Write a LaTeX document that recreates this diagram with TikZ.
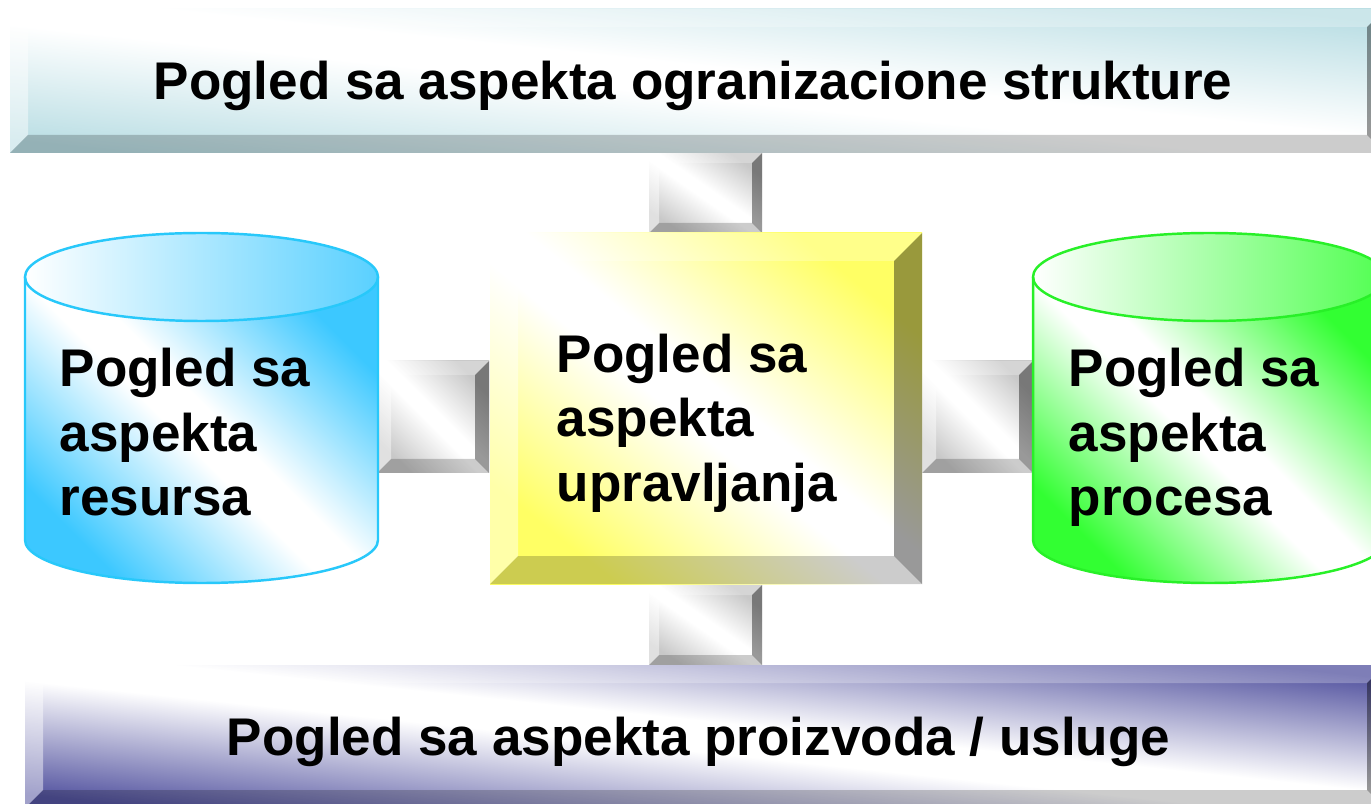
\documentclass[tikz,border=0pt]{standalone}
\usepackage{fontspec}
\setmainfont{Liberation Sans}
\usetikzlibrary{calc}
\definecolor{tealc}{RGB}{186,222,228}
\definecolor{navyc}{RGB}{84,84,160}
\definecolor{yelc}{RGB}{255,255,100}
\definecolor{grayc}{RGB}{200,200,200}
\definecolor{cyanc}{RGB}{60,200,255}
\definecolor{greenc}{RGB}{50,255,50}
\definecolor{cyanline}{RGB}{40,200,250}
\definecolor{greenline}{RGB}{40,240,40}
\newcommand\mkshade[2]{\pgfdeclareverticalshading{#1}{100bp}{color(0bp)=(#2); color(25bp)=(#2); color(47bp)=(white); color(53bp)=(white); color(75bp)=(#2); color(100bp)=(#2)}}
\mkshade{shteal}{tealc}
\mkshade{shnavy}{navyc}
\mkshade{shyel}{yelc}
\mkshade{shgray}{grayc}
\mkshade{shcyan}{cyanc}
\mkshade{shgreen}{greenc}
% x1 y1 x2 y2 depth shading angle
\newcommand\bevbox[7]{%
  \shade[shading=#6, shading angle=#7] (#1,#2) rectangle (#3,#4);
  \fill[white, fill opacity=0.25] (#1,#2) -- (#3,#2) -- ({#3-#5},{#2+#5}) -- ({#1+#5},{#2+#5}) -- cycle;
  \fill[white, fill opacity=0.45] (#1,#2) -- ({#1+#5},{#2+#5}) -- ({#1+#5},{#4-#5}) -- (#1,#4) -- cycle;
  \fill[black, fill opacity=0.2] (#1,#4) -- ({#1+#5},{#4-#5}) -- ({#3-#5},{#4-#5}) -- (#3,#4) -- cycle;
  \fill[black, fill opacity=0.4] (#3,#2) -- (#3,#4) -- ({#3-#5},{#4-#5}) -- ({#3-#5},{#2+#5}) -- cycle;
}
% x1 x2 shading colour linecolour
\newcommand\cylshape[5]{%
  \shade[shading=#3, shading angle=-45]
    (#1,277) -- (#1,540) arc[start angle=180, end angle=0, x radius={(#2-#1)/2}, y radius=43] -- (#2,277) -- cycle;
  \shade[left color=white, right color=#4!85!white] ({(#1+#2)/2},277) ellipse [x radius={(#2-#1)/2}, y radius=44];
  \draw[#5, line width=0.7pt] (#1,277) -- (#1,540) arc[start angle=180, end angle=0, x radius={(#2-#1)/2}, y radius=43] -- (#2,277);
  \draw[#5, line width=0.7pt] ({(#1+#2)/2},277) ellipse [x radius={(#2-#1)/2}, y radius=44];
}
\newcommand\tri[3]{\vtop{\hbox{#1}\hbox{#2}\hbox{#3}}}
\tikzset{lbl/.style={inner sep=0pt, text=black, font=\fontsize{15.08}{18.2}\selectfont\bfseries}}
\begin{document}
\begin{tikzpicture}[x=0.01cm, y=-0.01cm]
\useasboundingbox (0,0) rectangle (1371,804);
\clip (0,0) rectangle (1371,804);
\fill[white] (0,0) rectangle (1371,804);
% connectors
\bevbox{649}{153}{762}{233}{10}{shgray}{-35}
\bevbox{649}{585}{762}{665}{10}{shgray}{-35}
\bevbox{377}{361}{489}{473}{14}{shgray}{-45}
\bevbox{922}{361}{1033}{473}{14}{shgray}{-45}
% bars
\bevbox{10}{9}{1385}{153}{18}{shteal}{-6}
\bevbox{25}{665}{1385}{808}{18}{shnavy}{-6}
% centre box
\bevbox{490}{233}{922}{584}{28}{shyel}{-39}
% cylinders
\cylshape{25}{378}{shcyan}{cyanc}{cyanline}
\cylshape{1033}{1386}{shgreen}{greenc}{greenline}
% texts
\node[lbl, anchor=base] (orgtxt) at (693,100) {Pogled sa aspekta ogranizacione strukture};
\node[lbl, anchor=base] (prodtxt) at (698.5,755) {Pogled sa aspekta proizvoda / usluge};
\node[lbl, anchor=base west] (restxt) at (59,387) {\tri{Pogled sa}{aspekta}{resursa}};
\node[lbl, anchor=base west] (uprtxt) at (556,373) {\tri{Pogled sa}{aspekta}{upravljanja}};
\node[lbl, anchor=base west] (proctxt) at (1068,387) {\tri{Pogled sa}{aspekta}{procesa}};
\end{tikzpicture}
\end{document}
